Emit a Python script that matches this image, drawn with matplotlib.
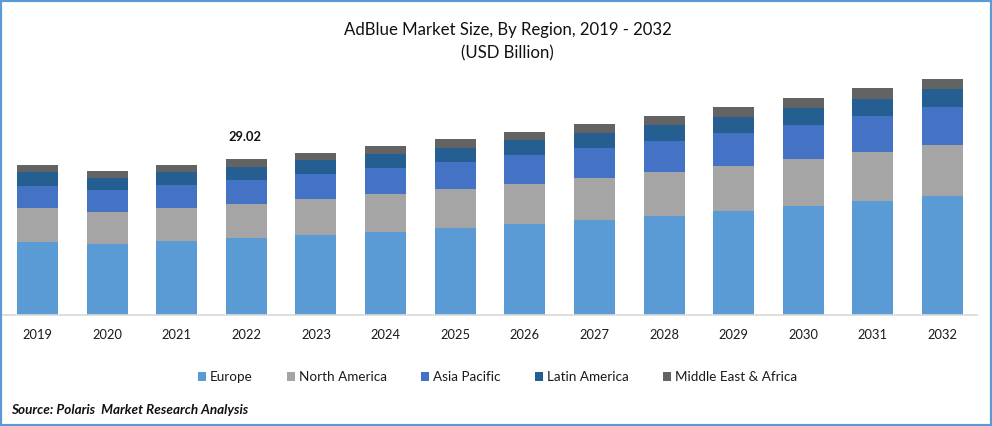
import numpy as np
import matplotlib
matplotlib.use('Agg')
import matplotlib.pyplot as plt
import matplotlib.patches as patches

years = ['2019', '2020', '2021', '2022', '2023', '2024', '2025', '2026', '2027', '2028', '2029', '2030', '2031', '2032']
europe = [13.58, 13.21, 13.76, 14.32, 14.88, 15.44, 16.18, 16.93, 17.67, 18.42, 19.35, 20.28, 21.21, 22.14]
north_america = [6.32, 5.95, 6.14, 6.32, 6.70, 7.07, 7.25, 7.44, 7.81, 8.18, 8.37, 8.74, 9.11, 9.49]
asia_pacific = [4.09, 4.09, 4.28, 4.46, 4.65, 4.84, 5.02, 5.39, 5.58, 5.77, 6.14, 6.32, 6.70, 7.07]
latin_america = [2.60, 2.23, 2.42, 2.42, 2.60, 2.60, 2.60, 2.79, 2.79, 2.98, 2.98, 3.16, 3.16, 3.35]
middle_east = [1.30, 1.30, 1.30, 1.49, 1.30, 1.49, 1.67, 1.49, 1.67, 1.67, 1.86, 1.86, 2.05, 1.86]

regions = ['Europe', 'North America', 'Asia Pacific', 'Latin America', 'Middle East & Africa']
series = [europe, north_america, asia_pacific, latin_america, middle_east]
colors = ['#5B9BD5', '#A5A5A5', '#4472C4', '#255E91', '#636363']

plt.rcParams['font.family'] = ['Lato', 'DejaVu Sans']

W, H = 992, 426
fig = plt.figure(figsize=(W / 100, H / 100), dpi=100, facecolor='w')

# axes box set in pixels so the baseline and bars land where they should
top_px, base_px = 60, 315
left_px, right_px = 2.7, 977.3
ax = fig.add_axes([left_px / W, 1 - base_px / H, (right_px - left_px) / W, (base_px - top_px) / H])

x = np.arange(len(years))
bottom = np.zeros(len(years))
for name, vals, col in zip(regions, series, colors):
    ax.bar(x, vals, width=0.589, bottom=bottom, color=col, label=name, linewidth=0)
    bottom += np.array(vals)

ax.set_xlim(-0.5, len(years) - 0.5)
ax.set_ylim(0, (base_px - top_px) / 5.376)
ax.set_yticks([])
ax.set_xticks(x)
ax.set_xticklabels(years, fontsize=9.3, color='#1a1a1a')
ax.tick_params(axis='x', length=0, pad=9.8)
for s in ['top', 'left', 'right']:
    ax.spines[s].set_visible(False)
ax.spines['bottom'].set_color('#D9D9D9')
ax.spines['bottom'].set_linewidth(1.2)
ax.patch.set_alpha(0)

# only 2022 carries a total
ax.text(2.98, bottom[3] + 4.1, '29.02', ha='center', va='center', fontsize=9.3, fontweight='bold', color='#111111')

fig.text(508 / W, 1 - 30 / H, 'AdBlue Market Size, By Region, 2019 - 2032', ha='center', va='center', fontsize=12.1, color='#111111')
fig.text(507 / W, 1 - 53 / H, '(USD Billion)', ha='center', va='center', fontsize=12.1, color='#111111')

fig.legend(loc='center', bbox_to_anchor=(497.5 / W, 1 - 377 / H), ncol=5, frameon=False, fontsize=9.7,
           handlelength=0.6, handleheight=0.6, handletextpad=0.3, columnspacing=2.54, labelcolor='#1a1a1a')

fig.text(11 / W, 1 - 410 / H, 'Source: Polaris  Market Research Analysis', ha='left', va='center', fontsize=9.7,
         fontweight='bold', fontstyle='italic', color='#111111')

# blue frame around the picture
fig.add_artist(patches.Rectangle((0, 0), 1, 1, transform=fig.transFigure, fill=False, edgecolor='#5B9BD5', linewidth=3))

fig.savefig('out.png', dpi=100)
